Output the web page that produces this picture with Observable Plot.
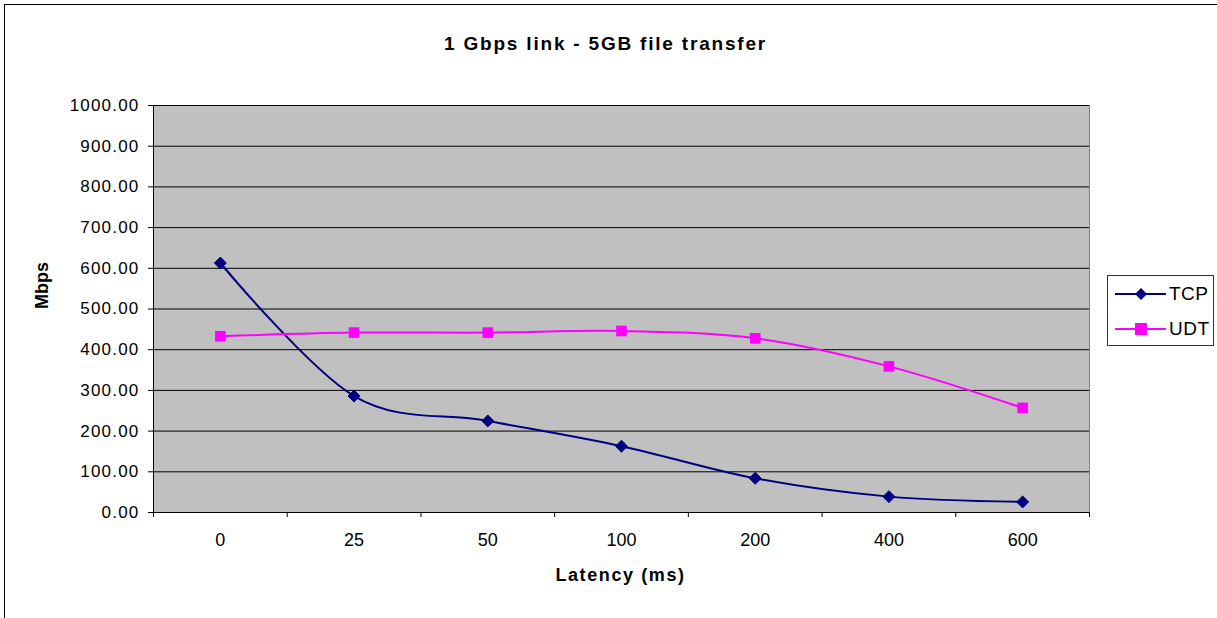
<!DOCTYPE html>
<html>
<head>
<meta charset="utf-8">
<script src="https://cdn.jsdelivr.net/npm/d3@7"></script>
<script src="https://cdn.jsdelivr.net/npm/@observablehq/plot@0.6"></script>
<style>
  html, body { margin: 0; padding: 0; background: #fff; overflow: hidden; }
  #wrap { position: relative; width: 1217px; height: 618px; font-family: "Liberation Sans", Arial, sans-serif; }
  #border { position: absolute; left: 4px; top: 4px; width: 1300px; height: 700px; border: 1px solid #000; pointer-events: none; }
  #legend { position: absolute; left: 1107px; top: 275px; width: 105px; height: 69px; border: 1px solid #333; background: #fff; }
  #legend .row { position: absolute; left: 0; height: 24px; display: flex; align-items: center; }
  #legend span { font-size: 19px; color: #000; margin-left: 3px; letter-spacing: 0.5px; }
</style>
</head>
<body>
<div id="wrap">
  <div id="chart"></div>
  <div id="border"></div>
  <div id="legend"></div>
</div>
<script>
const latency = ["0", "25", "50", "100", "200", "400", "600"];
const tcp = [613, 286, 225, 163, 84, 39, 26];
const udt = [433, 442, 442, 446, 428, 359, 257];
const yTicks = [0, 100, 200, 300, 400, 500, 600, 700, 800, 900, 1000];
const seriesNames = ["TCP", "UDT"];
const seriesColors = ["#000080", "#FF00FF"];
const titleText = "1 Gbps link - 5GB file transfer";
const xLabel = "Latency (ms)";
const yLabel = "Mbps";

const tcpRows = tcp.map((v, i) => ({i, v}));
const udtRows = udt.map((v, i) => ({i, v}));
const idx = latency.map((_, i) => i);
const bounds = d3.range(latency.length + 1).map(k => k - 0.5);
const curve = d3.curveCatmullRom.alpha(0);

const chart = Plot.plot({
  width: 1217,
  height: 618,
  marginLeft: 153,
  marginRight: 128,
  marginTop: 105,
  marginBottom: 106,
  style: {fontFamily: "'Liberation Sans', Arial, sans-serif", color: "#000", background: "transparent", overflow: "visible"},
  x: {type: "linear", domain: [-0.5, latency.length - 0.5]},
  y: {domain: [0, 1000]},
  marks: [
    Plot.frame({fill: "#C0C0C0", stroke: "#808080"}),
    Plot.ruleY(yTicks, {stroke: "#000", strokeWidth: 1}),
    Plot.ruleX([-0.5], {stroke: "#000", strokeWidth: 1}),
    Plot.ruleY([0], {stroke: "#000", strokeWidth: 1}),
    Plot.axisY({ticks: yTicks, tickSize: 5, tickPadding: 9, tickFormat: d => d.toFixed(2), fontSize: 17, label: null}),
    Plot.axisX({ticks: bounds, tickSize: 5, tickFormat: () => "", label: null}),
    Plot.axisX({ticks: idx, tickSize: 0, tickPadding: 21, tickFormat: i => latency[i], fontSize: 18, label: null}),
    Plot.line(tcpRows, {x: "i", y: "v", stroke: seriesColors[0], strokeWidth: 2, curve}),
    Plot.line(udtRows, {x: "i", y: "v", stroke: seriesColors[1], strokeWidth: 2, curve}),
    Plot.dot(tcpRows, {x: "i", y: "v", symbol: "diamond2", r: 5.4, fill: seriesColors[0], stroke: seriesColors[0], strokeWidth: 1}),
    Plot.dot(udtRows, {x: "i", y: "v", symbol: "square", r: 6, fill: seriesColors[1], stroke: null}),
    Plot.text([titleText], {frameAnchor: "top", dx: -16, dy: -69, fontSize: 19, fontWeight: "bold", fill: "#000"}),
    Plot.text([xLabel], {frameAnchor: "bottom", dx: -1, dy: 68, fontSize: 18, fontWeight: "bold", fill: "#000"}),
    Plot.text([yLabel], {frameAnchor: "left", dx: -111, rotate: -90, fontSize: 18, fontWeight: "bold", fill: "#000"})
  ]
});
document.getElementById("chart").appendChild(chart);

// letter spacing to match the stretched look of the original
const yTickLabels = new Set(yTicks.map(d => d.toFixed(2)));
chart.querySelectorAll("text").forEach(t => {
  const s = t.textContent;
  if (s === xLabel) t.setAttribute("letter-spacing", "1.6px");
  else if (s === titleText) t.setAttribute("letter-spacing", "1.8px");
  else if (yTickLabels.has(s)) t.setAttribute("letter-spacing", "1.2px");
});

// legend
const legend = document.getElementById("legend");
seriesNames.forEach((name, k) => {
  const row = document.createElement("div");
  row.className = "row";
  row.style.top = (k === 0 ? 6 : 41) + "px";
  const sw = d3.create("svg").attr("width", 58).attr("height", 24);
  sw.append("line").attr("x1", 7).attr("x2", 58).attr("y1", 12).attr("y2", 12)
    .attr("stroke", seriesColors[k]).attr("stroke-width", 2);
  if (k === 0) {
    sw.append("path").attr("d", d3.symbol(d3.symbolDiamond2, 92)()).attr("transform", "translate(33,12)").attr("fill", seriesColors[k]);
  } else {
    sw.append("rect").attr("x", 27).attr("y", 6).attr("width", 12).attr("height", 12).attr("fill", seriesColors[k]);
  }
  row.appendChild(sw.node());
  const s = document.createElement("span");
  s.textContent = name;
  row.appendChild(s);
  legend.appendChild(row);
});
</script>
</body>
</html>
